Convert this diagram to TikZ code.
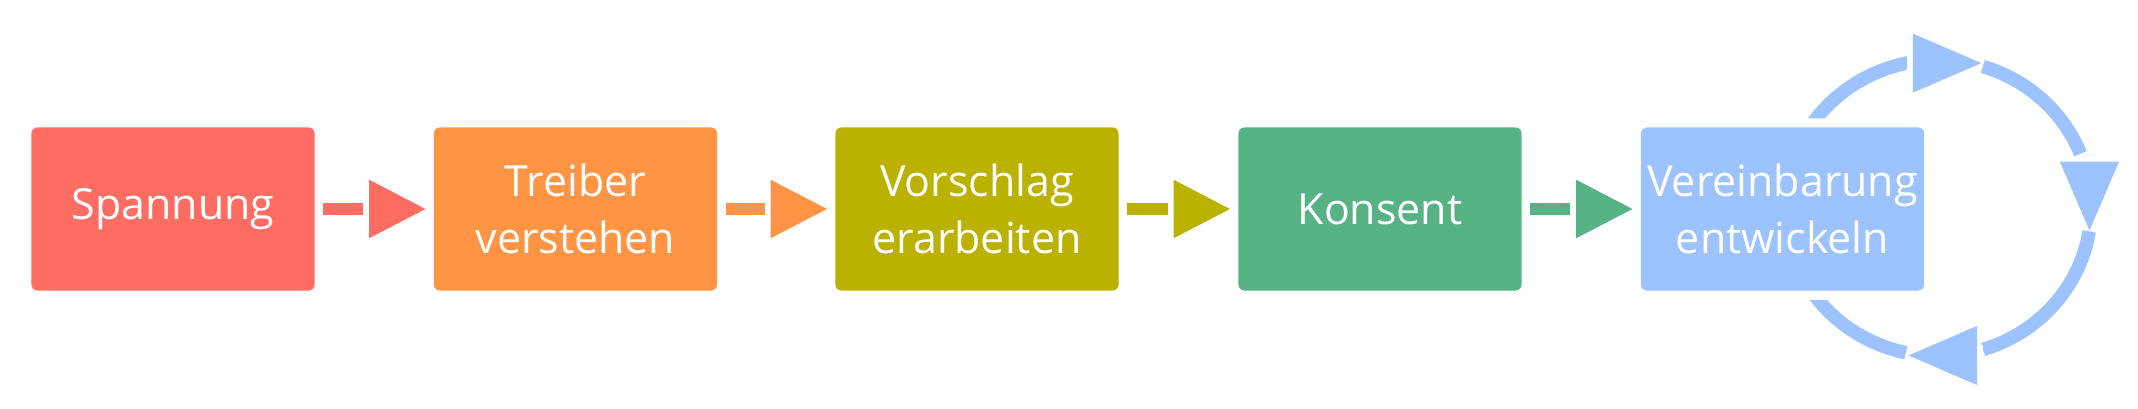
\documentclass[tikz,border=0pt]{standalone}
\usepackage{fontspec}
\setmainfont{Open Sans}
\usepackage{tikz}
\usetikzlibrary{arrows.meta}

\definecolor{spanred}{HTML}{FF6C62}
\definecolor{treiborange}{HTML}{FF9444}
\definecolor{vorolive}{HTML}{BBB200}
\definecolor{konsgreen}{HTML}{57B386}
\definecolor{vereinblue}{HTML}{9CC2FF}

\begin{document}
\begin{tikzpicture}[x=0.01cm,y=0.01cm,
		stepbox/.style={rounded corners=0.06cm,minimum width=2.83cm,minimum height=1.63cm,
			inner sep=0pt,text=white,align=center,font=\fontsize{12.2}{16.2}\selectfont},
		flow/.style={line width=0.115cm,
			-{Rectangle[length=0.06cm,width=0.2cm,sep=0pt,white]Triangle[length=0.57cm,width=0.55cm]},
			shorten <=0.08cm,shorten >=0.07cm},
		loopline/.style={line width=0.135cm,draw=vereinblue},
		loophead/.style={loopline,
			-{Rectangle[length=0.06cm,width=0.2cm,sep=0pt,white]Triangle[length=0.7cm,width=0.55cm]}}]
	\useasboundingbox (0,0) rectangle (2138,408);
	% steps
	\node[stepbox,fill=spanred] (span) at (173,199) {Spannung};
	\node[stepbox,fill=treiborange] (treib) at (575.5,199) {Treiber\\verstehen};
	\node[stepbox,fill=vorolive] (vor) at (977,199) {Vorschlag\\erarbeiten};
	\node[stepbox,fill=konsgreen] (kons) at (1380,199) {Konsent};
	\node[stepbox,fill=vereinblue] (ver) at (1782.5,199) {Vereinbarung\\entwickeln};
	% arrows
	\draw[flow,spanred] (span) -- (treib);
	\draw[flow,treiborange] (treib) -- (vor);
	\draw[flow,vorolive] (vor) -- (kons);
	\draw[flow,konsgreen] (kons) -- (ver);
	% loop round the last step
	\coordinate (loop) at ([xshift=1.555cm,yshift=0.01cm]ver.center);
	\begin{scope}[even odd rule]
		\clip (0,0) rectangle (2138,408)
			([yshift=0.085cm]ver.north west) rectangle ([yshift=-0.085cm]ver.south east);
		\draw[loophead] (loop) ++(150:153 and 148)
			arc[start angle=150,end angle=101.8,x radius=153,y radius=148] -- ++(76,0);
		\draw[loophead] (loop) ++(73:153 and 148)
			arc[start angle=73,end angle=21.5,x radius=153,y radius=148] ++(9,-2) -- ++(0,-76);
		\draw[loophead] (loop) ++(-9.1:153 and 148)
			arc[start angle=-9.1,end angle=-72.9,x radius=153,y radius=148] ++(0,-6) -- ++(-76,0);
		\draw[loopline] (loop) ++(-102.2:153 and 148)
			arc[start angle=-102.2,end angle=-150,x radius=153,y radius=148];
	\end{scope}
\end{tikzpicture}
\end{document}
